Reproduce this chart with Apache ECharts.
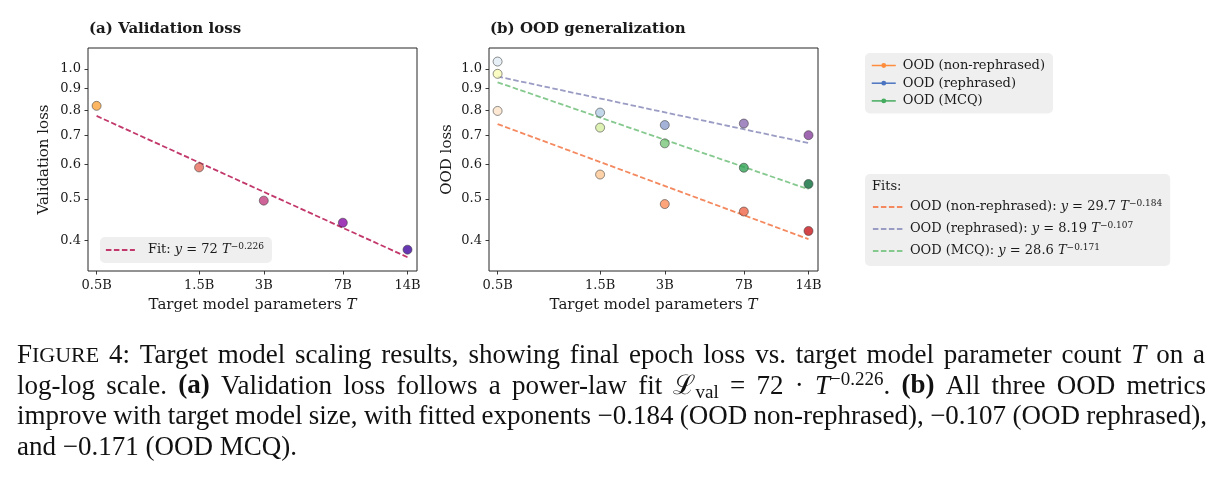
<!DOCTYPE html>
<html><head><meta charset="utf-8">
<script src="https://cdn.jsdelivr.net/npm/echarts@6/dist/echarts.min.js"></script>
<style>html,body{margin:0;padding:0;background:#fff}#c{width:1222px;height:480px}</style>
</head><body><div id="c"></div>
<script>
// ---------- data ----------
const xVals = [0.5, 1.5, 3, 7, 14];
const xLabels = ['0.5B', '1.5B', '3B', '7B', '14B'];
const yTicks = [0.4, 0.5, 0.6, 0.7, 0.8, 0.9, 1.0];
const valLoss = [0.821, 0.591, 0.495, 0.440, 0.381];
const oodNonReph = [0.799, 0.569, 0.486, 0.467, 0.421];
const oodReph = [1.040, 0.792, 0.741, 0.747, 0.702];
const oodMcq = [0.974, 0.731, 0.672, 0.590, 0.541];
const fitX = [0.5, 14];
const fitVal = [0.778, 0.366];
const fitNonReph = [0.745, 0.403];
const fitReph = [0.960, 0.673];
const fitMcq = [0.931, 0.526];
const captionLines = [
  '{n|F}{sc|IGURE} 4: Target model scaling results, showing final epoch loss vs. target model parameter count {i|T} on a',
  'log-log scale. {b|(a)} Validation loss follows a power-law fit {n|ℒ}{sub|val} = 72 · {i|T}{sup|−0.226}. {b|(b)} All three OOD metrics',
  'improve with target model size, with fitted exponents −0.184 (OOD non-rephrased), −0.107 (OOD rephrased),',
  'and −0.171 (OOD MCQ).'
];

// ---------- styles ----------
const valColors = ['#fba238', '#e66c5c', '#c33d80', '#8b0aa5', '#41049d'];
const nonRephColors = ['#fde3c8', '#fdc793', '#fc8d59', '#ef6548', '#c8171c'];
const rephColors = ['#e0ecf4', '#b3cde3', '#8c9fcc', '#8c6bb1', '#88419d'];
const mcqColors = ['#f9fbb5', '#d4eea0', '#78c679', '#31a354', '#0a6b3a'];
const SERIF = 'DejaVu Serif';
const TXT = '#1a1a1a';
const EDGE = '#3a3a3a';
const DASH = [5.5, 2.5];

const legRich = {
  n: {fontFamily: SERIF, fontSize: 13, lineHeight: 16, color: TXT},
  i: {fontFamily: SERIF, fontSize: 13, fontStyle: 'italic', lineHeight: 16, color: TXT},
  sup: {fontFamily: SERIF, fontSize: 9, lineHeight: 8, verticalAlign: 'top', color: TXT}
};
const legendLabels = {
  'Fit val': '{n|Fit: }{i|y}{n| = 72 }{i|T}{sup|−0.226}',
  'Fit non-reph': '{n|OOD (non-rephrased): }{i|y}{n| = 29.7 }{i|T}{sup|−0.184}',
  'Fit reph': '{n|OOD (rephrased): }{i|y}{n| = 8.19 }{i|T}{sup|−0.107}',
  'Fit mcq': '{n|OOD (MCQ): }{i|y}{n| = 28.6 }{i|T}{sup|−0.171}'
};

function labelFor(v) {
  let best = 0;
  xVals.forEach((x, i) => { if (Math.abs(Math.log(x) - Math.log(v)) < Math.abs(Math.log(xVals[best]) - Math.log(v))) best = i; });
  return xLabels[best];
}

function makeX(gi) {
  return {
    type: 'log', logBase: 10, gridIndex: gi, min: 0.456, max: 15.5,
    axisLine: {show: false},
    splitLine: {show: false},
    axisTick: {show: true, customValues: xVals, length: 3.5, lineStyle: {color: '#262626', width: 0.9}},
    axisLabel: {customValues: xVals, formatter: v => labelFor(v), fontFamily: SERIF, fontSize: 13, color: TXT, margin: 8},
    name: 'Target model parameters {i|T}', nameLocation: 'middle', nameGap: 27,
    nameTextStyle: {fontFamily: SERIF, fontSize: 15, color: TXT,
      rich: {i: {fontFamily: SERIF, fontSize: 15, fontStyle: 'italic', color: TXT}}}
  };
}
function makeY(gi, name, gap) {
  return {
    type: 'log', logBase: 10, gridIndex: gi, min: 0.34, max: 1.118,
    axisLine: {show: false},
    splitLine: {show: false},
    axisTick: {show: true, customValues: yTicks, length: 3.5, lineStyle: {color: '#262626', width: 0.9}},
    axisLabel: {customValues: yTicks, formatter: v => Number(v).toFixed(1), fontFamily: SERIF, fontSize: 13, color: TXT, margin: 7},
    name: name, nameLocation: 'middle', nameGap: gap,
    nameTextStyle: {fontFamily: SERIF, fontSize: 15, color: TXT}
  };
}
function pts(vals, cols) {
  return xVals.map((x, i) => ({value: [x, vals[i]], itemStyle: {color: cols[i]}}));
}
function fitLine(name, vals, color, ai) {
  return {type: 'line', name: name, xAxisIndex: ai, yAxisIndex: ai,
    data: fitX.map((x, i) => [x, vals[i]]), symbol: 'none', silent: true, z: 2,
    itemStyle: {color: color}, lineStyle: {color: color, width: 1.8, type: DASH}};
}
function scatter(name, vals, cols, ai) {
  return {type: 'scatter', name: name, xAxisIndex: ai, yAxisIndex: ai, data: pts(vals, cols),
    symbolSize: 9, z: 4, itemStyle: {borderColor: EDGE, borderWidth: 0.7}};
}
function proxy(name, color) {
  return {type: 'line', name: name, xAxisIndex: 1, yAxisIndex: 1, data: [], symbol: 'circle',
    itemStyle: {color: color}, lineStyle: {color: color, width: 1.5}};
}

// ---------- caption (justified words) ----------
const CF = 27, CLH = 32, CFAM = "'Liberation Serif', 'DejaVu Serif', serif";
const capRich = {
  n: {fontFamily: CFAM, fontSize: CF, lineHeight: CLH, fill: '#111'},
  b: {fontFamily: CFAM, fontSize: CF, fontWeight: 'bold', lineHeight: CLH, fill: '#111'},
  i: {fontFamily: CFAM, fontSize: CF, fontStyle: 'italic', lineHeight: CLH, fill: '#111'},
  sc: {fontFamily: CFAM, fontSize: Math.round(CF * 0.8), lineHeight: CLH, fill: '#111'},
  sub: {fontFamily: CFAM, fontSize: Math.round(CF * 0.7), lineHeight: 20, verticalAlign: 'bottom', fill: '#111'},
  sup: {fontFamily: CFAM, fontSize: Math.round(CF * 0.7), lineHeight: 12, verticalAlign: 'top', fill: '#111'}
};
const mctx = document.createElement('canvas').getContext('2d');
function tokens(word) {
  const re = /\{(\w+)\|([^}]*)\}|([^{]+)/g; const out = []; let m;
  while ((m = re.exec(word))) { if (m[1]) out.push([m[1], m[2]]); else out.push(['n', m[3]]); }
  return out;
}
function tokWidth(st, t) {
  const s = capRich[st];
  mctx.font = (s.fontStyle || 'normal') + ' ' + (s.fontWeight || 'normal') + ' ' + s.fontSize + 'px ' + s.fontFamily;
  return mctx.measureText(t).width;
}
const capGeom = [
  {x0: 17, x1: 1205, y: 356, justify: true},
  {x0: 17, x1: 1206, y: 386.5, justify: true},
  {x0: 17, x1: 1207, y: 417, justify: true},
  {x0: 17, x1: 1207, y: 447.5, justify: false}
];
const capElems = [];
captionLines.forEach((line, li) => {
  const g = capGeom[li];
  const words = line.split(' ').map(w => {
    const tk = tokens(w);
    return {rich: tk.map(([s, t]) => '{' + s + '|' + t + '}').join(''), w: tk.reduce((a, [s, t]) => a + tokWidth(s, t), 0)};
  });
  const sum = words.reduce((a, w) => a + w.w, 0);
  const gap = g.justify ? (g.x1 - g.x0 - sum) / (words.length - 1) : tokWidth('n', ' ');
  let x = g.x0;
  words.forEach(w => {
    capElems.push({type: 'text', x: x, y: g.y, silent: true,
      style: {text: w.rich, rich: capRich, fontFamily: CFAM, fontSize: CF, fill: '#111', align: 'left', verticalAlign: 'middle'}});
    x += w.w + gap;
  });
});

const chart = echarts.init(document.getElementById('c'), null, {renderer: 'canvas'});
chart.setOption({
  animation: false,
  backgroundColor: '#fff',
  textStyle: {fontFamily: SERIF},
  title: [
    {text: '(a) Validation loss', left: 89, top: 22, padding: 0, textStyle: {fontFamily: SERIF, fontWeight: 'bold', fontSize: 15, color: TXT}},
    {text: '(b) OOD generalization', left: 490, top: 22, padding: 0, textStyle: {fontFamily: SERIF, fontWeight: 'bold', fontSize: 15, color: TXT}}
  ],
  grid: [
    {left: 88, top: 48, width: 329, height: 223, show: true, borderColor: '#262626', borderWidth: 1, backgroundColor: 'transparent'},
    {left: 489, top: 48, width: 329, height: 223, show: true, borderColor: '#262626', borderWidth: 1, backgroundColor: 'transparent'}
  ],
  xAxis: [makeX(0), makeX(1)],
  yAxis: [makeY(0, 'Validation loss', 36), makeY(1, 'OOD loss', 34)],
  legend: [
    {data: ['Fit val'], left: 100, top: 237, orient: 'horizontal', padding: [5, 8, 5, 5],
      backgroundColor: '#efefef', borderRadius: 5, itemWidth: 29, itemHeight: 4,
      formatter: n => legendLabels[n], selectedMode: false,
      itemStyle: {opacity: 0}, lineStyle: {width: 1.8},
      textStyle: {fontFamily: SERIF, fontSize: 13, lineHeight: 16, color: TXT, padding: [0, 0, 0, 8], rich: legRich}},
    {data: ['OOD (non-rephrased)', 'OOD (rephrased)', 'OOD (MCQ)'], left: 865, top: 53, orient: 'vertical',
      padding: [5, 8, 5, 6], itemGap: 2.7, backgroundColor: '#efefef', borderRadius: 5,
      itemWidth: 24, itemHeight: 6, selectedMode: false, lineStyle: {width: 1.5},
      textStyle: {fontFamily: SERIF, fontSize: 13, lineHeight: 15, color: TXT, padding: [0, 0, 0, 2]}},
    {data: ['Fit non-reph', 'Fit reph', 'Fit mcq'], left: 865, top: 174, orient: 'vertical',
      padding: [25, 8, 7, 7], itemGap: 6, backgroundColor: '#efefef', borderRadius: 5,
      itemWidth: 31, itemHeight: 4, selectedMode: false, formatter: n => legendLabels[n],
      itemStyle: {opacity: 0}, lineStyle: {width: 1.8},
      textStyle: {fontFamily: SERIF, fontSize: 13, lineHeight: 16, color: TXT, padding: [0, 0, 0, 1], rich: legRich}}
  ],
  graphic: [
    {type: 'text', x: 872, y: 187, silent: true, z: 100,
      style: {text: 'Fits:', fontFamily: SERIF, fontSize: 13, fill: TXT, align: 'left', verticalAlign: 'middle'}}
  ].concat(capElems),
  series: [
    fitLine('Fit val', fitVal, '#c2386b', 0),
    scatter('Validation loss', valLoss, valColors, 0),
    fitLine('Fit non-reph', fitNonReph, '#f4895f', 1),
    fitLine('Fit reph', fitReph, '#9a9cc4', 1),
    fitLine('Fit mcq', fitMcq, '#86c98f', 1),
    scatter('OOD non-rephrased', oodNonReph, nonRephColors, 1),
    scatter('OOD rephrased', oodReph, rephColors, 1),
    scatter('OOD MCQ', oodMcq, mcqColors, 1),
    proxy('OOD (non-rephrased)', '#fd8d3c'),
    proxy('OOD (rephrased)', '#4a74c0'),
    proxy('OOD (MCQ)', '#45ac5f')
  ]
});
</script></body></html>
